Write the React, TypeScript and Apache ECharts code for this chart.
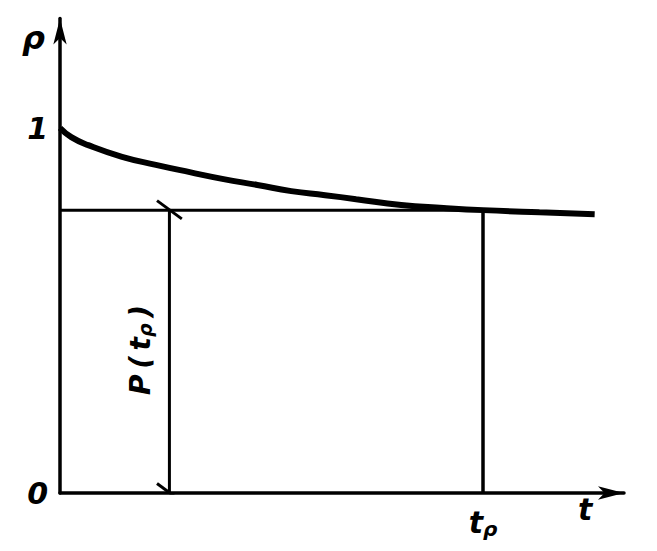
import React, { useEffect, useRef } from "react";
import * as echarts from "echarts";

// curve rho(t)
const T = [0, 0.2, 0.5, 1.1, 1.7, 2.3, 2.9, 3.5, 4.1, 4.7, 5.25, 6.05, 6.8, 7.5, 8.5, 9.48];
const RHO = [1.0, 0.975, 0.953, 0.921, 0.899, 0.879, 0.86, 0.844, 0.827, 0.816, 0.805, 0.789, 0.781, 0.775, 0.769, 0.764];
// key values
const T_P = 7.5;
const RHO_TP = 0.775;
const DIM_T = 1.94;
const Y_TICKS = [0, 1];
const X_MAX = 10;
const Y_MAX = 1.3;

export default function App() {
  const ref = useRef<HTMLDivElement>(null);
  useEffect(() => {
    if (!ref.current) return;
    const chart = echarts.init(ref.current, undefined, { renderer: "svg" });
    const black = "#000";
    const font = "DejaVu Sans";
    const slash = (t: number, r: number) => [
      [t - 0.22, r + 0.026],
      [t + 0.22, r - 0.024],
    ];
    const lineSeries = (data: number[][], width: number) => ({
      type: "line",
      data,
      showSymbol: false,
      silent: true,
      lineStyle: { color: black, width },
      z: 3,
    });
    chart.setOption({
      animation: false,
      backgroundColor: "#fff",
      grid: { left: 60, right: 33, top: 493 - Y_MAX * 365, bottom: 58, containLabel: false },
      xAxis: {
        type: "value",
        min: 0,
        max: X_MAX,
        interval: T_P,
        axisLine: {
          show: true,
          symbol: ["none", "arrow"],
          symbolSize: [10, 26],
          lineStyle: { color: black, width: 3.5 },
        },
        axisTick: { show: false },
        splitLine: { show: false },
        axisLabel: {
          margin: 12,
          color: black,
          formatter: (v: number) => (Math.abs(v - T_P) < 1e-6 ? "{t|t}{s|ρ}" : ""),
          rich: {
            t: { fontSize: 30, fontStyle: "italic", fontWeight: "bold", fontFamily: font, color: black },
            s: { fontSize: 20, fontStyle: "italic", fontWeight: "bold", fontFamily: font, color: black, padding: [14, 0, 0, 0] },
          },
        },
      },
      yAxis: {
        type: "value",
        min: 0,
        max: Y_MAX,
        interval: 1,
        axisLine: {
          show: true,
          symbol: ["none", "arrow"],
          symbolSize: [10, 26],
          lineStyle: { color: black, width: 3.5 },
        },
        axisTick: { show: false },
        splitLine: { show: false },
        axisLabel: {
          margin: 12,
          color: black,
          fontSize: 30,
          fontStyle: "italic",
          fontWeight: "bold",
          fontFamily: font,
          formatter: (v: number) => (Y_TICKS.includes(v) ? String(v) : ""),
        },
      },
      graphic: [
        {
          type: "text",
          left: 22,
          top: 22,
          style: { text: "ρ", fontSize: 32, fontStyle: "italic", fontWeight: "bold", fontFamily: font, fill: black },
        },
        {
          type: "text",
          left: 578,
          top: 494,
          style: { text: "t", fontSize: 30, fontStyle: "italic", fontWeight: "bold", fontFamily: font, fill: black },
        },
        {
          type: "text",
          x: 140,
          y: 350,
          rotation: Math.PI / 2,
          style: {
            text: "{a|P\u2009(\u2009t}{b|ρ}{a|\u2009)}",
            align: "center",
            verticalAlign: "middle",
            rich: {
              a: { fontSize: 28, fontStyle: "italic", fontWeight: "bold", fontFamily: font, fill: black },
              b: { fontSize: 19, fontStyle: "italic", fontWeight: "bold", fontFamily: font, fill: black, padding: [9, 0, 0, 0] },
            },
          },
        },
      ],
      series: [
        {
          type: "line",
          data: T.map((t, i) => [t, RHO[i]]),
          smooth: true,
          showSymbol: false,
          silent: true,
          lineStyle: { color: black, width: 6 },
          z: 4,
        },
        lineSeries([[0, RHO_TP], [T_P, RHO_TP]], 3),
        lineSeries([[T_P, 0], [T_P, RHO_TP]], 3.5),
        lineSeries([[DIM_T, 0], [DIM_T, RHO_TP]], 3),
        lineSeries(slash(DIM_T, RHO_TP), 3),
        lineSeries(slash(DIM_T, 0), 3),
      ],
    });
    return () => chart.dispose();
  }, []);
  return (
    <div
      ref={ref}
      style={{ position: "fixed", left: 0, top: 0, width: 657, height: 551, background: "#fff" }}
    />
  );
}
